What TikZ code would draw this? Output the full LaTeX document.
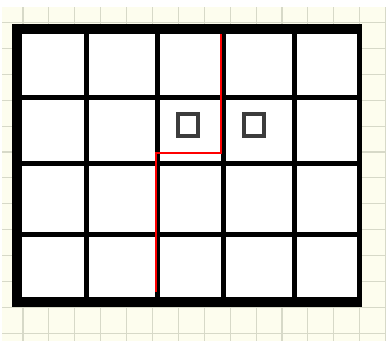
\documentclass[tikz,border=0pt]{standalone}
\definecolor{paper}{RGB}{253,253,238}
\definecolor{gridln}{RGB}{215,217,200}
\definecolor{markgray}{RGB}{60,60,60}
\tikzset{
  gridpaper/.style={draw=gridln, line width=1.1pt},
  cellline/.style={draw=black, line width=5pt},
  pathline/.style={draw=red, line width=2pt, line join=miter},
  marker/.style={draw=markgray, line width=4pt, fill=white},
}
\begin{document}
\begin{tikzpicture}[x=1pt,y=-1pt]
\useasboundingbox (0,0) rectangle (386,341);
\fill[white] (0,0) rectangle (386,341);
\fill[paper] (2,7) rectangle (386,341);
% grid paper
\foreach \i in {0,...,14} {
  \draw[gridpaper] ({23+25.9*\i},7) -- ({23+25.9*\i},341);
}
\foreach \j in {0,...,12} {
  \draw[gridpaper] (2,{22.5+25.9*\j}) -- (386,{22.5+25.9*\j});
}
% frame
\fill[black] (12,24) rectangle (362,307);
\fill[white] (22,34) rectangle (357,297);
% inner lines
\foreach \x in {86,157,223,294} {
  \draw[cellline] (\x,34) -- (\x,297);
}
\foreach \y in {97.5,163,234.5} {
  \draw[cellline] (22,\y) -- (357,\y);
}
% markers
\draw[marker] (178,114) rectangle (198,136);
\draw[marker] (244,114) rectangle (264,136);
% red path
\coordinate (p1) at (220.5,34);
\coordinate (p2) at (220.5,153);
\coordinate (p3) at (156,153);
\coordinate (p4) at (156,292);
\draw[pathline] (p1) -- (p2) -- (p3) -- (p4);
\end{tikzpicture}
\end{document}
